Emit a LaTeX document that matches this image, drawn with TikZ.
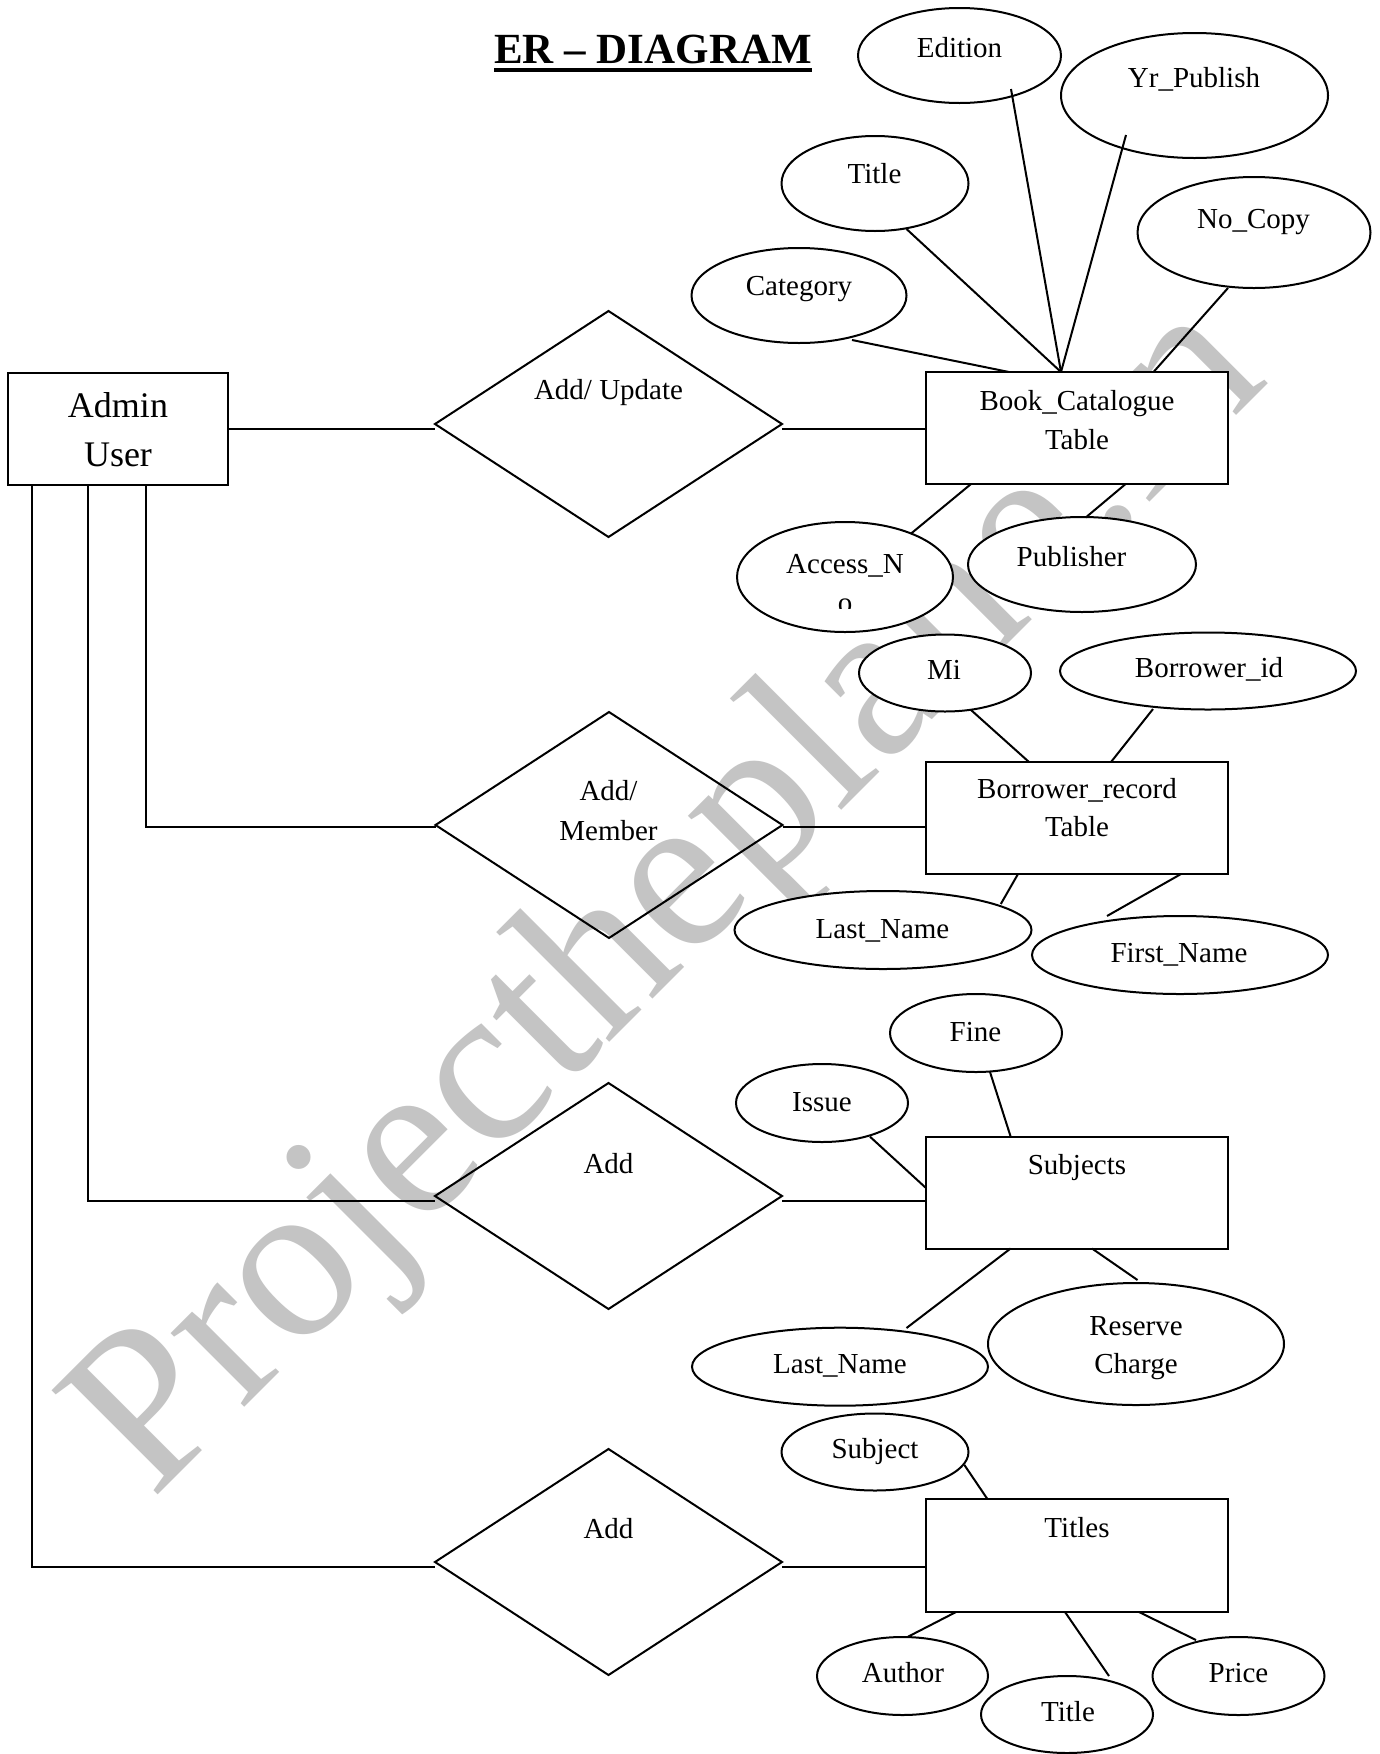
\documentclass[tikz,border=0pt]{standalone}
\usepackage{fontspec}
\setmainfont{Liberation Serif}
\usetikzlibrary{shapes.geometric,calc}
\definecolor{wmgray}{RGB}{196,196,196}
\begin{document}
\begin{tikzpicture}[x=1pt,y=-1pt,
  every node/.style={inner sep=0pt, outer sep=0pt},
  ent/.style={draw, line width=2pt, fill=white, minimum width=302pt, minimum height=112pt},
  attr/.style={draw, ellipse, line width=2pt, fill=white},
  rel/.style={draw, diamond, line width=2pt, minimum width=347pt, minimum height=226pt},
  lbl/.style={font=\fontsize{29}{35}\selectfont, anchor=base},
  big/.style={font=\fontsize{36}{44}\selectfont, anchor=base},
  conn/.style={line width=2pt}]
\fill[white] (0,0) rectangle (1380,1754);
\useasboundingbox (0,0) rectangle (1380,1754);

% watermark
\node[anchor=base west, rotate=45, text=wmgray, font=\fontsize{227}{227}\selectfont] (wm) at (152,1500) {Projectheplane.in};

% title
\node[anchor=base, font=\bfseries\fontsize{43}{50}\selectfont] (title) at (653,63) {ER – DIAGRAM};
\draw[line width=4pt] ([yshift=-7pt]title.base west) -- ([yshift=-7pt]title.base east);

% entities
\node[draw, line width=2pt, fill=white, minimum width=220pt, minimum height=112pt] (admin) at (118,429) {};
\node[ent] (book) at (1077,428) {};
\node[ent] (br) at (1077,818) {};
\node[ent] (subj) at (1077,1192.5) {};
\node[ent, minimum height=113pt] (titles) at (1077,1555.5) {};

% relationships
\node[rel] (d1) at (608.5,424) {};
\node[rel] (d2) at (609,825) {};
\node[rel] (d3) at (608.5,1196) {};
\node[rel] (d4) at (608.5,1562) {};

% attributes
\node[attr, minimum width=203pt, minimum height=95pt] (ed) at (959.5,55.5) {};
\node[attr, minimum width=267pt, minimum height=125pt] (yr) at (1194.5,95.5) {};
\node[attr, minimum width=187pt, minimum height=95pt] (ti) at (875,183.5) {};
\node[attr, minimum width=233pt, minimum height=111pt] (nc) at (1254,232.5) {};
\node[attr, minimum width=215pt, minimum height=95pt] (cat) at (799,295.5) {};
\node[attr, minimum width=216pt, minimum height=110pt] (acc) at (845,577) {};
\node[attr, minimum width=228pt, minimum height=95pt] (pub) at (1082,564.5) {};
\node[attr, minimum width=172pt, minimum height=77pt] (mi) at (945,673) {};
\node[attr, minimum width=296pt, minimum height=77pt] (bid) at (1208,671) {};
\node[attr, minimum width=297pt, minimum height=78pt] (ln1) at (883,930) {};
\node[attr, minimum width=296pt, minimum height=78pt] (fn) at (1180,955) {};
\node[attr, minimum width=172pt, minimum height=78pt] (fine) at (976,1033) {};
\node[attr, minimum width=172pt, minimum height=78pt] (iss) at (822,1103) {};
\node[attr, minimum width=296pt, minimum height=78pt] (ln2) at (840,1366.7) {};
\node[attr, minimum width=296pt, minimum height=122pt] (res) at (1136,1344) {};
\node[attr, minimum width=187pt, minimum height=77pt] (sub) at (875,1452) {};
\node[attr, minimum width=171pt, minimum height=78pt] (au) at (902.5,1676) {};
\node[attr, minimum width=172pt, minimum height=77pt] (ti2) at (1067,1714.5) {};
\node[attr, minimum width=172pt, minimum height=78pt] (pr) at (1238.5,1676) {};

% main connectors
\draw[conn] (admin.east) -- (admin.east -| d1.west);
\draw[conn] (admin.east -| d1.east) -- (admin.east -| book.west);
\draw[conn] ($(admin.south west)+(138,0)$) |- ($(d2.west)+(0,2)$);
\draw[conn] ($(d2.east)+(0,2)$) coordinate (c2) -- (c2 -| br.west);
\draw[conn] ($(admin.south west)+(80,0)$) |- ($(d3.west)+(0,5)$);
\draw[conn] ($(d3.east)+(0,5)$) coordinate (c3) -- (c3 -| subj.west);
\draw[conn] ($(admin.south west)+(24,0)$) |- ($(d4.west)+(0,5)$);
\draw[conn] ($(d4.east)+(0,5)$) coordinate (c4) -- (c4 -| titles.west);

% attribute connectors: book
\draw[conn] ($(cat.center)+(53,44.5)$) -- ($(book.north west)+(83,0)$);
\draw[conn] ($(ti.center)+(31.5,45.5)$) -- ($(book.north west)+(135,0)$);
\draw[conn] ($(ed.center)+(51.5,33.5)$) -- ($(book.north west)+(135,0)$);
\draw[conn] ($(yr.center)+(-68.5,39.5)$) -- ($(book.north west)+(135,0)$);
\draw[conn] ($(nc.center)+(-26,55.5)$) -- ($(book.north west)+(227.5,0)$);
\draw[conn] ($(acc.center)+(66,-43.4)$) -- ($(book.south west)+(45,0)$);
\draw[conn] ($(pub.center)+(3.7,-47)$) -- ($(book.south west)+(199.6,0)$);
% borrower
\draw[conn] ($(mi.center)+(26,37)$) -- ($(br.north west)+(103,0)$);
\draw[conn] ($(bid.center)+(-55,38)$) -- ($(br.north west)+(185,0)$);
\draw[conn] ($(ln1.center)+(117.8,-26)$) -- ($(br.south west)+(92,0)$);
\draw[conn] ($(fn.center)+(-73,-39)$) -- ($(br.south west)+(255,0)$);
% subjects
\draw[conn] ($(fine.center)+(14,39)$) -- ($(subj.north west)+(84.6,0)$);
\draw[conn] ($(iss.center)+(48,33.7)$) -- ($(subj.north west)+(0,51.5)$);
\draw[conn] ($(ln2.center)+(66.5,-38.7)$) -- ($(subj.south west)+(84.6,0)$);
\draw[conn] ($(res.center)+(1.5,-64)$) -- ($(subj.south west)+(166,0)$);
% titles
\draw[conn] ($(sub.center)+(89.4,13)$) -- ($(titles.north west)+(61.4,0)$);
\draw[conn] ($(au.center)+(5.5,-39.3)$) -- ($(titles.south west)+(30,0)$);
\draw[conn] ($(ti2.center)+(42,-38.5)$) -- ($(titles.south west)+(139,0)$);
\draw[conn] ($(pr.center)+(-42.5,-36)$) -- ($(titles.south west)+(213,0)$);

% texts
\node[big] (t-admin1) at (118,417) {Admin};
\node[big] (t-admin2) at (118,466) {User};
\node[lbl] (t-ed) at (959.5,57) {Edition};
\node[lbl] (t-yr) at (1194,87) {Yr\_Publish};
\node[lbl] (t-ti) at (874.5,183) {Title};
\node[lbl] (t-nc) at (1253.5,228) {No\_Copy};
\node[lbl] (t-cat) at (799,295) {Category};
\node[lbl] (t-d1) at (608.5,399) {Add/ Update};
\node[lbl] (t-book1) at (1077,410) {Book\_Catalogue};
\node[lbl] (t-book2) at (1077,449) {Table};
\node[lbl] (t-acc) at (845,573) {Access\_N};
\begin{scope}
\clip (740,560) rectangle (950,608);
\node[lbl] (t-acc2) at (845,612) {o};
\end{scope}
\node[lbl] (t-pub) at (1071.5,566) {Publisher};
\node[lbl] (t-mi) at (944,679) {Mi};
\node[lbl] (t-bid) at (1209,677) {Borrower\_id};
\node[lbl] (t-br1) at (1077,798) {Borrower\_record};
\node[lbl] (t-br2) at (1077,836) {Table};
\node[lbl] (t-d2a) at (608.5,800) {Add/};
\node[lbl] (t-d2b) at (608.5,840) {Member};
\node[lbl] (t-ln1) at (882.5,938) {Last\_Name};
\node[lbl] (t-fn) at (1179,962) {First\_Name};
\node[lbl] (t-fine) at (975.5,1041) {Fine};
\node[lbl] (t-iss) at (822,1111) {Issue};
\node[lbl] (t-subj) at (1077,1174) {Subjects};
\node[lbl] (t-d3) at (608.5,1173) {Add};
\node[lbl] (t-ln2) at (840,1373) {Last\_Name};
\node[lbl] (t-res1) at (1136,1335) {Reserve};
\node[lbl] (t-res2) at (1136,1373) {Charge};
\node[lbl] (t-sub) at (875,1458) {Subject};
\node[lbl] (t-titles) at (1077,1537) {Titles};
\node[lbl] (t-d4) at (608.5,1538) {Add};
\node[lbl] (t-au) at (903,1682) {Author};
\node[lbl] (t-ti2) at (1068,1721) {Title};
\node[lbl] (t-pr) at (1238.5,1682) {Price};
\end{tikzpicture}
\end{document}
